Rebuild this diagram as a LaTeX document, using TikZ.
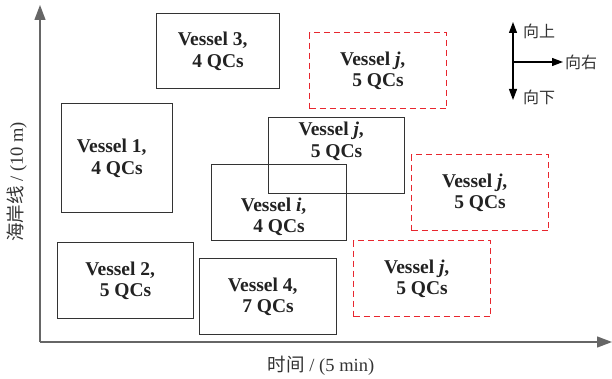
\documentclass[tikz,border=0pt]{standalone}
\usepackage{fontspec}
\setmainfont{Liberation Serif}
\newfontfamily\cjk{Noto Sans CJK SC}
\usetikzlibrary{arrows.meta,positioning}

\definecolor{axisgray}{HTML}{666666}
\definecolor{boxgray}{HTML}{333333}
\definecolor{inkgray}{HTML}{222222}
\definecolor{planred}{HTML}{E8262E}

\tikzset{
  vbox/.style={draw=boxgray, line width=1.2pt, anchor=north west, inner sep=0pt},
  vplan/.style={vbox, draw=planred, dashed, dash pattern=on 6pt off 4pt},
  vsz/.style 2 args={minimum width=#1pt, minimum height=#2pt},
  vtext/.style={align=center, text=inkgray, inner sep=0pt,
    font=\bfseries\fontsize{19.5}{21.5}\selectfont},
  axlab/.style={text=boxgray, font=\fontsize{18.5}{20}\selectfont},
  dirlab/.style={text=boxgray, anchor=west, inner sep=0pt, font=\cjk\fontsize{16}{18}\selectfont}
}

\begin{document}
\begin{tikzpicture}[x=1pt, y=-1pt]
\useasboundingbox (0,0) rectangle (612,379);
% axes
\coordinate (o) at (40,342);
\coordinate (ytop) at (40,5);
\coordinate (xend) at (612,342);
\draw[axisgray, line width=1.3pt, -{Triangle[length=15pt,width=11pt]}] (o) -- (ytop);
\draw[axisgray, line width=1.3pt, -{Triangle[length=15pt,width=11pt]}] (o) -- (xend);
\node[axlab] (xlab) at (321,366) {{\cjk 时间} / (5 min)};
\node[axlab, rotate=90] (ylab) at (17,182) {{\cjk 海岸线} / (10 m)};

% direction legend
\coordinate (lg) at (513,62);
\coordinate (lgup) at (513,22);
\coordinate (lgdn) at (513,100);
\coordinate (lgrt) at (563,62);
\draw[black, line width=1.2pt, {Triangle[length=11pt,width=8pt]}-{Triangle[length=11pt,width=8pt]}] (lgup) -- (lgdn);
\draw[black, line width=1.2pt, -{Triangle[length=11pt,width=8pt]}] (lg) -- (lgrt);
\node[dirlab] (up) at (523,31) {向上};
\node[dirlab] (rt) at (565,62) {向右};
\node[dirlab] (dn) at (523,97) {向下};

% vessels
\node[vbox, vsz={123}{75}] (v3) at (156,13) {};
\node[vtext] (v3t) at (v3.center) {Vessel 3,\hphantom{n}\\4 QCs};
\node[vbox, vsz={111}{109}] (v1) at (61,103) {};
\node[vtext] (v1t) at (v1.center) {Vessel 1,\hphantom{n}\\4 QCs};
\node[vbox, vsz={136}{76}] (v2) at (57,242) {};
\node[vtext] (v2t) at (v2.center) {Vessel 2,\hphantom{n}\\5 QCs};
\node[vbox, vsz={137}{76}] (v4) at (199,258) {};
\node[vtext] (v4t) at (v4.center) {Vessel 4,\hphantom{n}\\7 QCs};
\node[vbox, vsz={136}{76}] (vj) at (268,117) {};
\node[vtext, below=5pt of vj.north] (vjt) {Vessel \textit{j},\hphantom{n}\\5 QCs};
\node[vbox, vsz={135}{76}] (vi) at (211,164) {};
\node[vtext, above=5pt of vi.south] (vit) {Vessel \textit{i},\hphantom{n}\\4 QCs};

% planned positions of vessel j
\node[vplan, vsz={137}{76}] (pj1) at (309,32) {};
\node[vtext] (pj1t) at (pj1.center) {Vessel \textit{j},\hphantom{n}\\5 QCs};
\node[vplan, vsz={137}{76}] (pj2) at (411,154) {};
\node[vtext] (pj2t) at (pj2.center) {Vessel \textit{j},\hphantom{n}\\5 QCs};
\node[vplan, vsz={137}{76}] (pj3) at (353,240) {};
\node[vtext] (pj3t) at (pj3.center) {Vessel \textit{j},\hphantom{n}\\5 QCs};
\end{tikzpicture}
\end{document}
